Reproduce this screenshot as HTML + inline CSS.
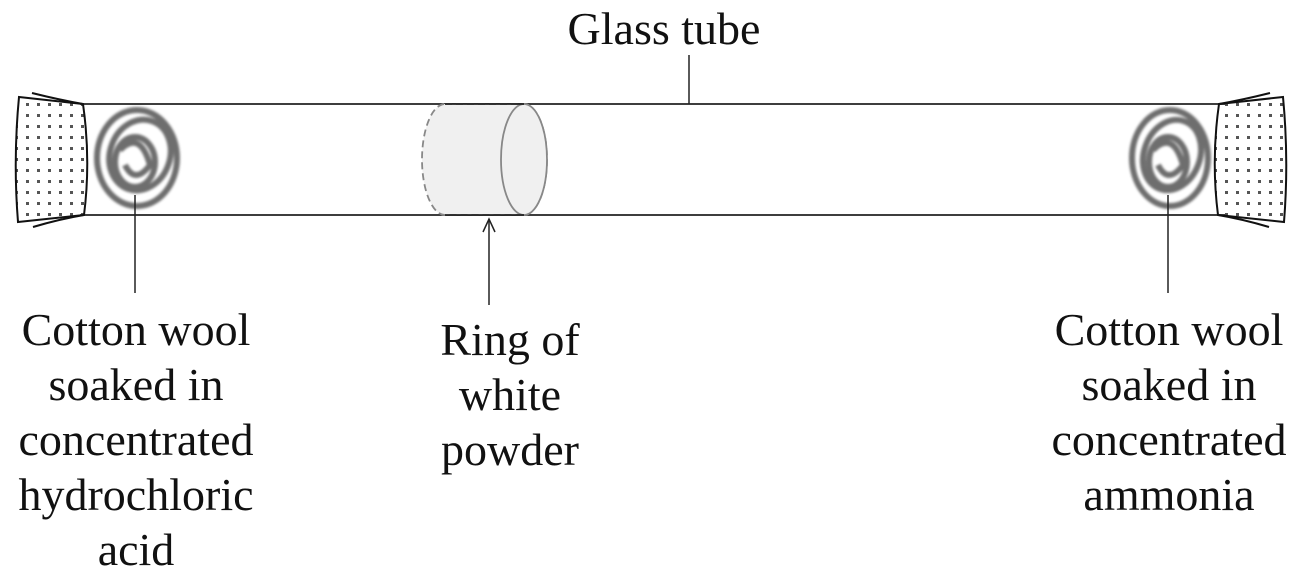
<!DOCTYPE html>
<html><head><meta charset="utf-8"><style>
body{margin:0;background:#fff}
svg{display:block}
text{font-family:"Liberation Serif",serif;font-size:46px;fill:#111;text-anchor:middle}
</style></head><body>
<svg width="1302" height="576" viewBox="0 0 1302 576">
<defs>
<pattern id="dots" width="11" height="11" patternUnits="userSpaceOnUse">
<rect x="4" y="4" width="3" height="3" fill="#555"/>
</pattern>
<filter id="blur"><feGaussianBlur stdDeviation="1.3"/></filter>
</defs>
<line x1="80" y1="104" x2="1225" y2="104" stroke="#222" stroke-width="1.8"/>
<line x1="80" y1="215" x2="1225" y2="215" stroke="#222" stroke-width="1.8"/>
<path d="M19 97 Q13 160 18 222 L84 215 Q91 160 83 104 Z" fill="url(#dots)" stroke="#111" stroke-width="2"/>
<path d="M32 93 Q60 100 83 104" fill="none" stroke="#111" stroke-width="2"/>
<path d="M33 227 Q60 219 84 215" fill="none" stroke="#111" stroke-width="2"/>
<path d="M1283 97 Q1289 160 1284 222 L1218 215 Q1211 160 1219 104 Z" fill="url(#dots)" stroke="#111" stroke-width="2"/>
<path d="M1270 93 Q1242 100 1219 104" fill="none" stroke="#111" stroke-width="2"/>
<path d="M1269 227 Q1242 219 1218 215" fill="none" stroke="#111" stroke-width="2"/>
<g filter="url(#blur)" fill="none" stroke="#555" stroke-width="6" opacity="0.85">
<ellipse cx="137" cy="158" rx="40" ry="48"/>
<ellipse cx="140" cy="155" rx="30" ry="36" transform="rotate(20 140 155)"/>
<ellipse cx="135" cy="162" rx="20" ry="25"/>
<path d="M120 150 Q140 130 150 165 Q135 185 125 165"/>
<ellipse cx="1170" cy="158" rx="38" ry="48"/>
<ellipse cx="1172" cy="155" rx="28" ry="36" transform="rotate(20 1172 155)"/>
<ellipse cx="1168" cy="162" rx="19" ry="25"/>
<path d="M1153 150 Q1173 130 1183 165 Q1168 185 1158 165"/>
</g>
<path d="M445 104 L524 104 A23 55.5 0 0 1 524 215 L445 215 A23 55.5 0 0 1 445 104 Z" fill="#f0f0f0" stroke="#888" stroke-width="1.8" stroke-dasharray="7 4"/>
<ellipse cx="524" cy="159.5" rx="23" ry="55.5" fill="#f0f0f0" stroke="#888" stroke-width="1.8"/>
<line x1="445" y1="104" x2="524" y2="104" stroke="#222" stroke-width="1.8"/>
<line x1="445" y1="215" x2="524" y2="215" stroke="#222" stroke-width="1.8"/>
<line x1="689" y1="55" x2="689" y2="104" stroke="#222" stroke-width="1.5"/>
<line x1="135" y1="195" x2="135" y2="293" stroke="#222" stroke-width="1.5"/>
<line x1="1168" y1="195" x2="1168" y2="293" stroke="#222" stroke-width="1.5"/>
<line x1="489" y1="219" x2="489" y2="305" stroke="#222" stroke-width="1.5"/>
<path d="M483 232 L489 219 L495 232" fill="none" stroke="#222" stroke-width="1.5"/>
<text x="664" y="44">Glass tube</text>
<text x="136" y="345">Cotton wool</text>
<text x="136" y="400">soaked in</text>
<text x="136" y="455">concentrated</text>
<text x="136" y="510">hydrochloric</text>
<text x="136" y="565">acid</text>
<text x="510" y="355">Ring of</text>
<text x="510" y="410">white</text>
<text x="510" y="465">powder</text>
<text x="1169" y="345">Cotton wool</text>
<text x="1169" y="400">soaked in</text>
<text x="1169" y="455">concentrated</text>
<text x="1169" y="510">ammonia</text>
</svg>
</body></html>
